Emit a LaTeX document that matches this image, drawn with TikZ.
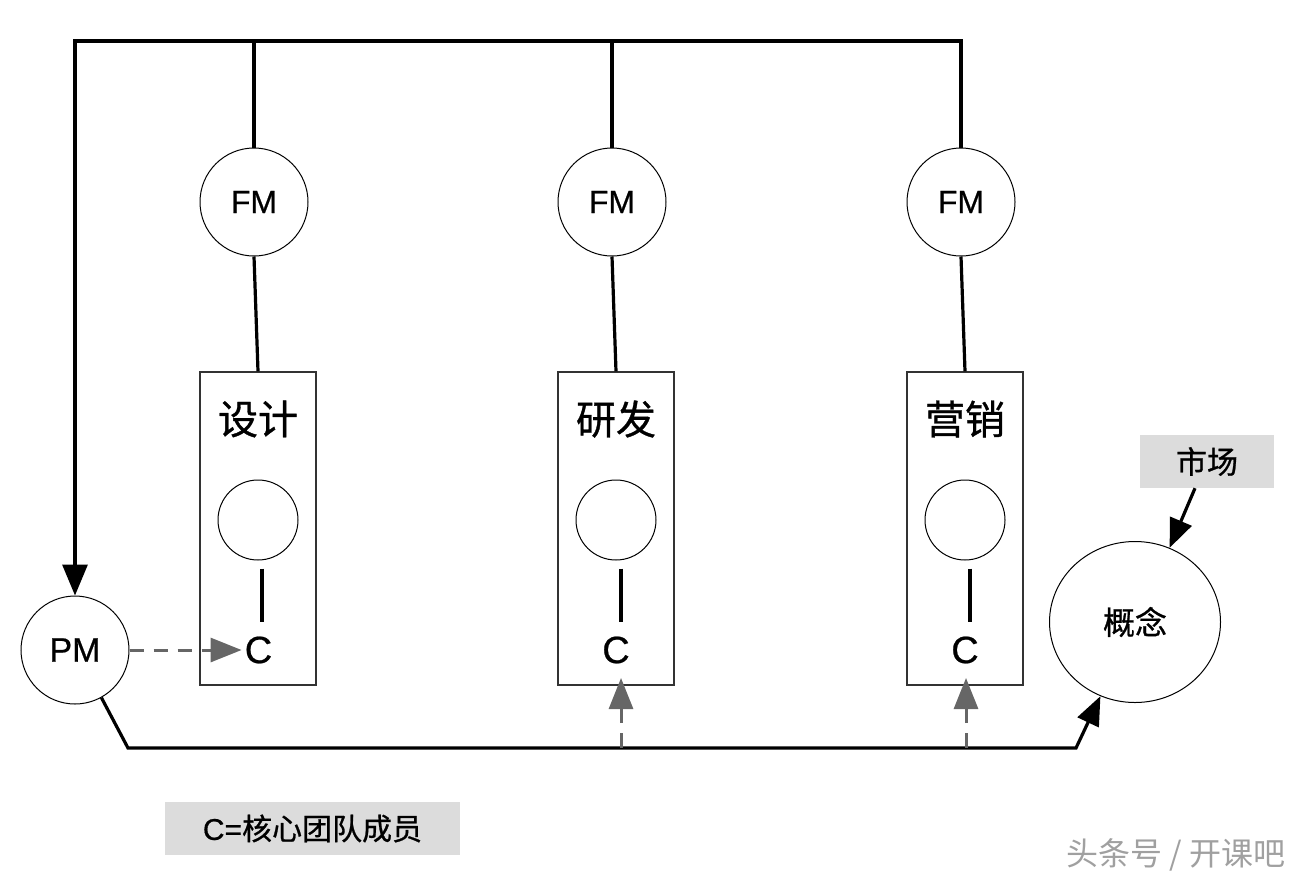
\documentclass[tikz,border=0pt]{standalone}
\usepackage{fontspec}
\setmainfont{Liberation Sans}[RawFeature={embolden=0.6}]
\newfontfamily\cjk{Noto Sans CJK SC}[RawFeature={embolden=0.8}]
\newfontfamily\cjkw{Noto Sans CJK SC}
\usetikzlibrary{arrows.meta,shapes.geometric}
\definecolor{boxgray}{HTML}{DCDCDC}
\definecolor{dgray}{HTML}{666666}
\definecolor{edgegray}{HTML}{333333}
\definecolor{wmgray}{HTML}{A0A0A0}
\begin{document}
\begin{tikzpicture}[x=1pt,y=-1pt,
  thickline/.style={line width=3.2pt,line join=miter},
  bigtip/.style={-{Triangle[length=31pt,width=25pt]}},
  dasharrow/.style={line width=3pt,dgray,dash pattern=on 14pt off 10pt,-{Triangle[length=31pt,width=24pt]}},
  fmnode/.style={circle,draw,line width=1pt,minimum size=108pt,inner sep=0pt,font=\fontsize{32}{32}\selectfont},
  deptbox/.style={rectangle,draw=edgegray,line width=1.2pt,minimum width=116pt,minimum height=313pt,inner sep=0pt},
  titletext/.style={inner sep=0pt,font=\fontsize{40}{40}\selectfont\cjk},
  smallc/.style={circle,draw,line width=1pt,minimum size=80pt,inner sep=0pt},
  cnode/.style={inner sep=3pt,font=\fontsize{38}{38}\selectfont},
  graybox/.style={rectangle,fill=boxgray,inner sep=0pt},
]
\useasboundingbox (0,0) rectangle (1314,884);

% FM nodes
\node[fmnode] (fm1) at (254,202) {FM};
\node[fmnode] (fm2) at (612,202) {FM};
\node[fmnode] (fm3) at (961,202) {FM};

% department boxes
\node[deptbox] (b1) at (258,528.5) {};
\node[deptbox] (b2) at (616,528.5) {};
\node[deptbox] (b3) at (965,528.5) {};

\node[titletext] (t1) at (258,419) {设计};
\node[titletext] (t2) at (616,419) {研发};
\node[titletext] (t3) at (965,419) {营销};

\node[smallc] (s1) at (258,520) {};
\node[smallc] (s2) at (616,520) {};
\node[smallc] (s3) at (965,520) {};

\node[cnode] (c1) at (258.5,650) {C};
\node[cnode] (c2) at (616,650) {C};
\node[cnode] (c3) at (965,650) {C};

% PM and concept
\node[fmnode,font=\fontsize{34}{34}\selectfont] (pm) at (75,650) {PM};
\node[ellipse,draw,line width=1pt,minimum width=171pt,minimum height=161pt,inner sep=0pt,
      font=\fontsize{32}{32}\selectfont\cjk] (gn) at (1135,622) {概念};
\node[graybox,minimum width=134pt,minimum height=53pt,font=\fontsize{31}{31}\selectfont\cjk] (mk) at (1207,461.5) {市场};
\node[graybox,minimum width=295pt,minimum height=53pt,font=\fontsize{30}{30}\selectfont] (lg) at (312.5,828.5) {C=\cjk 核心团队成员};
\node[text=wmgray,inner sep=0pt,font=\fontsize{32}{32}\selectfont\cjkw] (wm) at (1176,855) {头条号 / 开课吧};

% top bus
\coordinate (tl) at (75,41);
\draw[thickline,bigtip] (fm3.north) -- (fm3.north |- tl) -- (tl) -- (pm.north);
\draw[thickline] (fm1.north) -- (fm1.north |- tl);
\draw[thickline] (fm2.north) -- (fm2.north |- tl);

% FM to boxes
\draw[thickline] (fm1.south) -- (b1.north);
\draw[thickline] (fm2.south) -- (b2.north);
\draw[thickline] (fm3.south) -- (b3.north);

% small circle to C
\draw[thickline,shorten <=8pt,shorten >=11pt] ([xshift=4pt]s1.south) -- ([xshift=4pt]s1.south |- c1.north);
\draw[thickline,shorten <=8pt,shorten >=11pt] ([xshift=5pt]s2.south) -- ([xshift=5pt]s2.south |- c2.north);
\draw[thickline,shorten <=8pt,shorten >=11pt] ([xshift=5pt]s3.south) -- ([xshift=5pt]s3.south |- c3.north);

% PM dashed to C
\draw[dasharrow] (pm.east) -- (c1.west);

% bottom bus
\coordinate (k1) at (128,748);
\coordinate (k2) at (1076,748);
\draw[thickline,-{Triangle[length=29pt,width=23pt]}] (pm.-61) -- (k1) -- (k2) -- (gn.245);

% dashed up arrows
\coordinate (u2) at (621,748);
\coordinate (u2t) at (621,678);
\coordinate (u3) at (966,748);
\coordinate (u3t) at (966,678);
\draw[dasharrow,dash pattern=on 15pt off 10pt] (u2) -- (u2t);
\draw[dasharrow,dash pattern=on 15pt off 10pt] (u3) -- (u3t);

% market to concept
\draw[thickline,-{Triangle[length=29pt,width=23pt]}] ([xshift=-12pt]mk.south) -- (gn.65);
\end{tikzpicture}
\end{document}
